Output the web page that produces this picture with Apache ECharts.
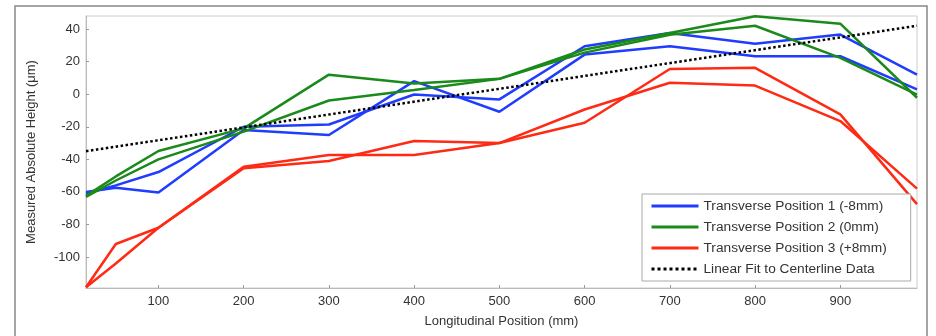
<!DOCTYPE html>
<html>
<head>
<meta charset="utf-8">
<script src="https://cdn.jsdelivr.net/npm/echarts@6/dist/echarts.min.js"></script>
<style>
  html, body { margin: 0; padding: 0; background: #fff; }
  #chart { width: 936px; height: 336px; }
</style>
</head>
<body>
<div id="chart"></div>
<script>
// longitudinal positions (mm)
const xPos = [15, 50, 100, 200, 300, 400, 500, 600, 700, 800, 900, 990];

// two runs per transverse position
const pos1A = [-61, -56, -47.8, -20, -18.6, -0.2, -3.2, 29.4, 37.6, 30.9, 36.6, 12];
const pos1B = [-60, -57.5, -60.4, -22, -25.1, 8, -10.8, 24.3, 29.4, 23.3, 23.3, 2.9];
const pos2A = [-62.4, -50.5, -34.9, -21, 12, 6.5, 9.4, 27.4, 37.6, 47.8, 43.3, -2.2];
const pos2B = [-63, -53, -40, -23, -3.9, 2.5, 9.4, 25.5, 36.5, 42, 22.3, -0.2];
const pos3A = [-118.5, -92, -82, -44.5, -37.3, -37.3, -30, -9.4, 7, 5.3, -16.5, -58];
const pos3B = [-118.5, -104, -82, -45.5, -41, -28.8, -30, -17.5, 15.5, 16.2, -12.4, -67.5];

// linear fit end points
const fitX = [15, 990];
const fitY = [-35, 42];

const xTicks = [100, 200, 300, 400, 500, 600, 700, 800, 900];
const yTicks = [-100, -80, -60, -40, -20, 0, 20, 40];

const names = [
  'Transverse Position 1 (-8mm)',
  'Transverse Position 2 (0mm)',
  'Transverse Position 3 (+8mm)',
  'Linear Fit to Centerline Data'
];

const zip = (xs, ys) => xs.map((x, i) => [x, ys[i]]);

const lineSeries = (name, data, color) => ({
  name,
  type: 'line',
  data: zip(xPos, data),
  symbol: 'none',
  lineStyle: { color, width: 2.5 },
  itemStyle: { color },
  emphasis: { disabled: true }
});

const chart = echarts.init(document.getElementById('chart'), null, { renderer: 'canvas' });

const font = '"Liberation Sans", Arial, Helvetica, sans-serif';

chart.setOption({
  animation: false,
  textStyle: { fontFamily: font },
  graphic: [{
    type: 'rect',
    shape: { x: 15, y: 6, width: 912, height: 345 },
    style: { fill: 'none', stroke: '#888', lineWidth: 1.5 },
    z: -1
  }],
  grid: {
    left: 86, top: 16, right: 19, bottom: 48,
    show: true, borderColor: '#ccc', borderWidth: 1
  },
  legend: {
    orient: 'vertical',
    left: 642, top: 194,
    data: names,
    backgroundColor: '#fff',
    borderColor: '#aaa',
    borderWidth: 1,
    padding: [5, 24, 5, 8],
    itemWidth: 47,
    itemHeight: 14,
    itemGap: 7,
    itemStyle: { opacity: 0 },
    lineStyle: { width: 3 },
    textStyle: { fontSize: 13.7, color: '#333', fontFamily: font }
  },
  xAxis: {
    type: 'value',
    min: 15, max: 990,
    name: 'Longitudinal Position (mm)',
    nameLocation: 'middle',
    nameGap: 27,
    nameTextStyle: { fontSize: 13, color: '#333' },
    axisLine: { onZero: false, lineStyle: { color: '#bbb' } },
    axisTick: { inside: true, length: 3, lineStyle: { color: '#999' }, customValues: xTicks },
    axisLabel: { fontSize: 13, color: '#333', margin: 7, customValues: xTicks },
    splitLine: { show: false }
  },
  yAxis: {
    type: 'value',
    min: -119, max: 48,
    name: 'Measured Absolute Height (μm)',
    nameLocation: 'middle',
    nameGap: 48,
    nameTextStyle: { fontSize: 13, color: '#333' },
    axisLine: { show: true, onZero: false, lineStyle: { color: '#bbb' } },
    axisTick: { show: true, inside: true, length: 3, lineStyle: { color: '#999' }, customValues: yTicks },
    axisLabel: { fontSize: 13, color: '#333', margin: 6, customValues: yTicks },
    splitLine: { show: false }
  },
  series: [
    lineSeries(names[0], pos1A, '#1f3cff'),
    lineSeries(names[0], pos1B, '#1f3cff'),
    lineSeries(names[1], pos2A, '#1a8a1a'),
    lineSeries(names[1], pos2B, '#1a8a1a'),
    lineSeries(names[2], pos3A, '#ff2a14'),
    lineSeries(names[2], pos3B, '#ff2a14'),
    {
      name: names[3],
      type: 'line',
      data: zip(fitX, fitY),
      symbol: 'none',
      lineStyle: { color: '#000', width: 2.5, type: 'dotted' },
      itemStyle: { color: '#000' },
      emphasis: { disabled: true },
      z: 3
    }
  ]
});
</script>
</body>
</html>
